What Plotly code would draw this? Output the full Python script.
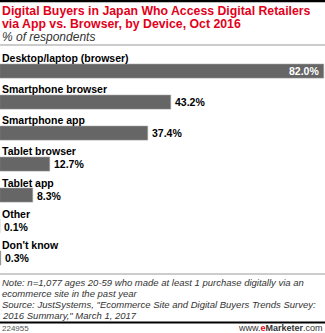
import plotly.graph_objects as go

W, H = 325, 333

categories = [
    "Desktop/laptop (browser)",
    "Smartphone browser",
    "Smartphone app",
    "Tablet browser",
    "Tablet app",
    "Other",
    "Don't know",
]
values = [82.0, 43.2, 37.4, 12.7, 8.3, 0.1, 0.3]
value_labels = [f"{v:.1f}%" for v in values]

title_lines = [
    "Digital Buyers in Japan Who Access Digital Retailers",
    "via App vs. Browser, by Device, Oct 2016",
]
subtitle_text = "% of respondents"
note_lines = [
    "Note: n=1,077 ages 20-59 who made at least 1 purchase digitally via an",
    "ecommerce site in the past year",
    "Source: JustSystems, \"Ecommerce Site and Digital Buyers Trends Survey:",
    "2016 Summary,\" March 1, 2017",
]
chart_id = "224955"

FONT = "Liberation Sans, Arial, sans-serif"
RED = "#e2001a"
BAR = "#666666"


def py(px):
    """Pixel row from the top -> paper fraction."""
    return 1 - px / H


def text_line(txt, x, y_px, size, color, anchor="left"):
    return dict(x=x, y=py(y_px), xref="paper", yref="paper",
                xanchor=anchor, yanchor="middle", text=txt, showarrow=False,
                align=anchor, font=dict(family=FONT, size=size, color=color))


fig = go.Figure()

fig.add_trace(go.Bar(
    x=values,
    y=list(range(len(categories))),
    orientation="h",
    width=0.45,
    marker=dict(color=BAR, line=dict(color="#9a9a9a", width=0.6)),
    hoverinfo="skip",
))

annotations = []
for i, (cat, v, lab) in enumerate(zip(categories, values, value_labels)):
    # category label sitting above its bar
    annotations.append(dict(
        x=0, y=i, xref="x", yref="y", xanchor="left", yanchor="middle",
        yshift=13, text=f"<b>{cat}</b>", showarrow=False,
        font=dict(family=FONT, size=10.5, color="#000"),
    ))
    inside = v > 60
    annotations.append(dict(
        x=v, y=i, xref="x", yref="y",
        xanchor="right" if inside else "left", yanchor="middle",
        xshift=-3 if inside else 2, text=f"<b>{lab}</b>", showarrow=False,
        font=dict(family=FONT, size=10.5, color="#fff" if inside else "#000"),
    ))

for k, line in enumerate(title_lines):
    annotations.append(text_line(f"<b>{line}</b>", 0, 11 + 13 * k, 12.3, RED))
annotations.append(text_line(f"<i>{subtitle_text}</i>", 0, 37, 12, "#333"))
for k, line in enumerate(note_lines):
    annotations.append(text_line(f"<i>{line}</i>", 0, 282 + 11 * k, 9.5, "#333"))
annotations.append(text_line(chart_id, 0, 328, 8, "#555"))
annotations.append(text_line(
    "www.<b><span style='color:#e2001a'>e</span>Marketer</b>.com",
    1, 328, 9, "#333", anchor="right"))

shapes = [
    dict(type="line", xref="paper", yref="paper", x0=0, x1=1, y0=py(1), y1=py(1),
         line=dict(color="#000", width=2.5)),
    dict(type="line", xref="paper", yref="paper", x0=0, x1=1, y0=py(45), y1=py(45),
         line=dict(color="#999", width=1)),
    dict(type="line", xref="paper", yref="paper", x0=0, x1=1, y0=py(274), y1=py(274),
         line=dict(color="#999", width=1)),
    dict(type="line", xref="paper", yref="paper", x0=0, x1=1, y0=py(322.5), y1=py(322.5),
         line=dict(color="#000", width=2)),
]

# category centres run from ~71px to ~258px down the page
step = (258 - 71) / 6
top_px = 71 - step / 2
bot_px = 258 + step / 2

fig.update_layout(
    width=W, height=H,
    margin=dict(l=0, r=0, t=0, b=0),
    paper_bgcolor="#fff", plot_bgcolor="#fff",
    showlegend=False,
    bargap=0,
    xaxis=dict(range=[0, 82.2], visible=False, fixedrange=True),
    yaxis=dict(range=[len(categories) - 0.5, -0.5], visible=False,
               domain=[py(bot_px), py(top_px)], fixedrange=True),
    annotations=annotations,
    shapes=shapes,
)

fig.write_html("out.html", config={"displayModeBar": False})
